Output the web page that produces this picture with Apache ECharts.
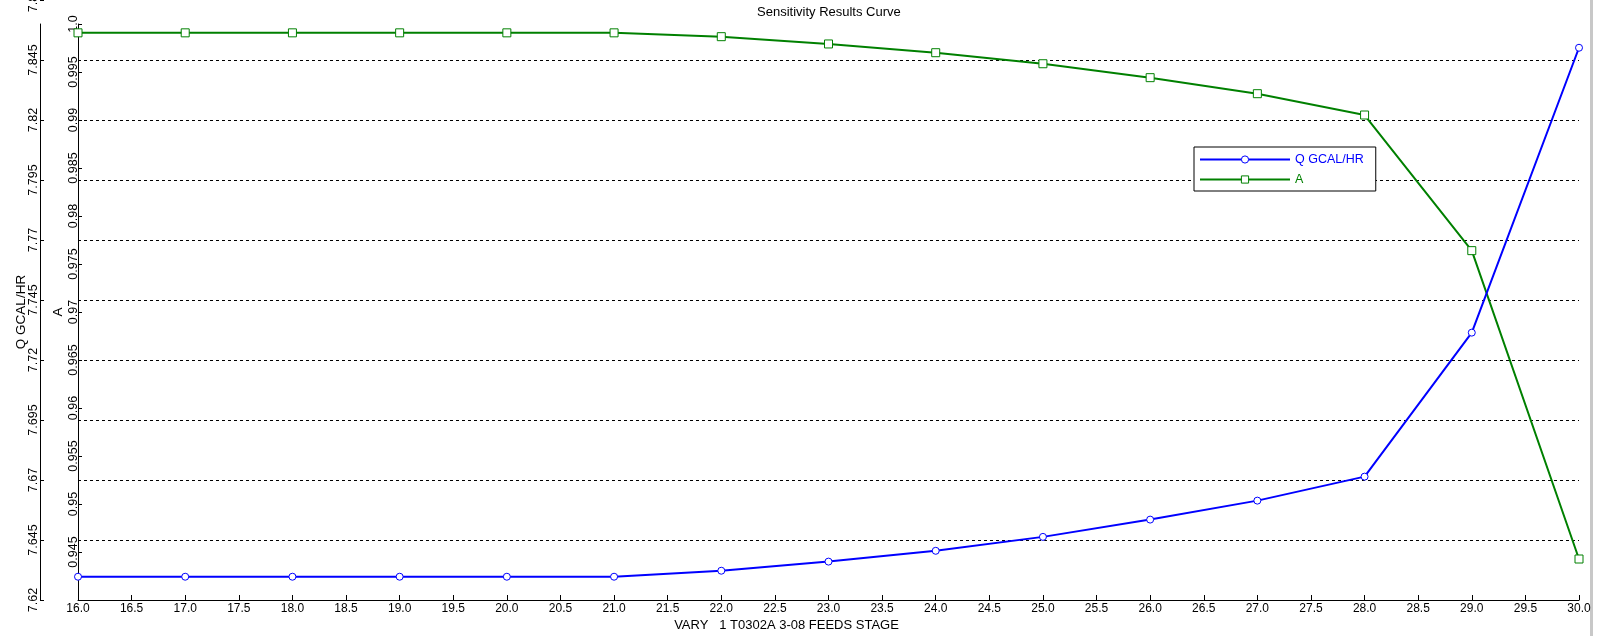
<!DOCTYPE html>
<html><head><meta charset="utf-8">
<script src="https://cdn.jsdelivr.net/npm/echarts@6.0.0/dist/echarts.min.js"></script>
<style>html,body{margin:0;padding:0;background:#fff}#c{width:1598px;height:636px}</style>
</head><body><div id="c"></div><script>
// ---- data ----
const stages = [16, 17, 18, 19, 20, 21, 22, 23, 24, 25, 26, 27, 28, 29, 30];
const qValues = [7.6297, 7.6297, 7.6297, 7.6297, 7.6297, 7.6297, 7.6322, 7.6360, 7.6405, 7.6463, 7.6535, 7.6614, 7.6714, 7.7314, 7.8501];
const aValues = [0.99908, 0.99908, 0.99908, 0.99908, 0.99908, 0.99908, 0.99868, 0.99792, 0.99701, 0.99586, 0.99441, 0.99274, 0.99052, 0.97639, 0.94427];
const xRange = [16, 30], xStep = 0.5;
const qRange = [7.62, 7.87], qStep = 0.025;
const aRange = [0.94, 1.0], aStep = 0.005;
const seriesNames = ['Q GCAL/HR', 'A'];
const titleText = 'Sensitivity Results Curve';
const xName = 'VARY   1 T0302A 3-08 FEEDS STAGE';

const FONT = "'Liberation Sans', Arial, sans-serif";
const BLUE = '#0000ff', GREEN = '#008000';
const qData = stages.map((s, i) => [s, qValues[i]]);
const aData = stages.map((s, i) => [s, aValues[i]]);

const chart = echarts.init(document.getElementById('c'), null, {renderer: 'canvas'});
chart.setOption({
  animation: false,
  backgroundColor: '#fff',
  textStyle: {fontFamily: FONT},
  title: {
    text: titleText, left: 757, top: 6, padding: 0,
    textStyle: {fontFamily: FONT, fontSize: 13, fontWeight: 'normal', color: '#000'}
  },
  legend: {
    orient: 'vertical', left: 1194, top: 147,
    padding: [6, 12, 5, 5], itemGap: 7, itemWidth: 90, itemHeight: 9,
    backgroundColor: '#fff', borderColor: '#000', borderWidth: 1, borderRadius: 0,
    data: [
      {name: seriesNames[0], textStyle: {color: BLUE}, itemStyle: {color: '#fff', borderColor: BLUE, borderWidth: 1}},
      {name: seriesNames[1], textStyle: {color: GREEN}, itemStyle: {color: '#fff', borderColor: GREEN, borderWidth: 1}}
    ],
    textStyle: {fontFamily: FONT, fontSize: 12.5, padding: [0, 0, 0, 0]}
  },
  grid: [
    {left: 78, right: 19, top: 0, bottom: 36, outerBoundsMode: 'none', containLabel: false},
    {left: 78, right: 19, top: 24, bottom: 36, outerBoundsMode: 'none', containLabel: false}
  ],
  xAxis: [
    {gridIndex: 0, type: 'value', min: xRange[0], max: xRange[1], show: false},
    {gridIndex: 1, type: 'value', min: xRange[0], max: xRange[1], interval: xStep,
      axisLine: {show: true, lineStyle: {color: '#000', width: 1}},
      axisTick: {show: true, inside: true, length: 5, lineStyle: {color: '#000'}},
      axisLabel: {color: '#000', fontSize: 12, fontFamily: FONT, margin: 3, formatter: v => v.toFixed(1)},
      splitLine: {show: false},
      name: xName, nameLocation: 'middle', nameGap: 19, nameMoveOverlap: false,
      nameTextStyle: {color: '#000', fontSize: 13, fontFamily: FONT, padding: [0, 84, 0, 0]}
    }
  ],
  yAxis: [
    {gridIndex: 0, type: 'value', min: qRange[0], max: qRange[1], interval: qStep,
      position: 'left', offset: 38,
      axisLine: {show: false},
      axisTick: {show: true, inside: true, length: 4, lineStyle: {color: '#000'}},
      axisLabel: {rotate: 90, color: '#000', fontSize: 12.5, fontFamily: FONT, margin: 0,
        formatter: v => String(+v.toFixed(4))},
      splitLine: {show: true, showMinLine: false, showMaxLine: false,
        lineStyle: {color: '#000', width: 1, type: [3, 3]}}
    },
    {gridIndex: 1, type: 'value', min: aRange[0], max: aRange[1], interval: aStep,
      position: 'left',
      axisLine: {show: true, lineStyle: {color: '#000', width: 1}},
      axisTick: {show: true, inside: true, length: 4, lineStyle: {color: '#000'}},
      axisLabel: {rotate: 90, color: '#000', fontSize: 12.5, fontFamily: FONT, margin: -2, showMinLabel: false,
        formatter: v => { const s = String(+v.toFixed(4)); return s.indexOf('.') < 0 ? s + '.0' : s; }},
      splitLine: {show: false},
      name: seriesNames[1], nameLocation: 'middle', nameGap: 13, nameMoveOverlap: false,
      nameTextStyle: {color: '#000', fontSize: 13.5, fontFamily: FONT}
    },
    {gridIndex: 1, type: 'value', min: 0, max: 1, position: 'left', offset: 38,
      axisLine: {show: true, onZero: false, lineStyle: {color: '#000', width: 1}},
      axisTick: {show: false}, axisLabel: {show: false}, splitLine: {show: false},
      name: seriesNames[0], nameLocation: 'middle', nameGap: 12, nameMoveOverlap: false,
      nameTextStyle: {color: '#000', fontSize: 13.5, fontFamily: FONT}
    }
  ],
  series: [
    {name: seriesNames[0], type: 'line', xAxisIndex: 0, yAxisIndex: 0, data: qData,
      symbol: 'circle', symbolSize: 7, showAllSymbol: true,
      lineStyle: {color: BLUE, width: 2},
      itemStyle: {color: '#fff', borderColor: BLUE, borderWidth: 1},
      emphasis: {disabled: true}, z: 3},
    {name: seriesNames[1], type: 'line', xAxisIndex: 1, yAxisIndex: 1, data: aData,
      symbol: 'rect', symbolSize: 8, showAllSymbol: true,
      lineStyle: {color: GREEN, width: 2},
      itemStyle: {color: '#fff', borderColor: GREEN, borderWidth: 1},
      emphasis: {disabled: true}, z: 2}
  ],
  graphic: [
    {type: 'rect', left: 1590, top: 0, shape: {width: 3, height: 636}, style: {fill: '#c8c8c8'}, silent: true}
  ]
});
</script></body></html>
